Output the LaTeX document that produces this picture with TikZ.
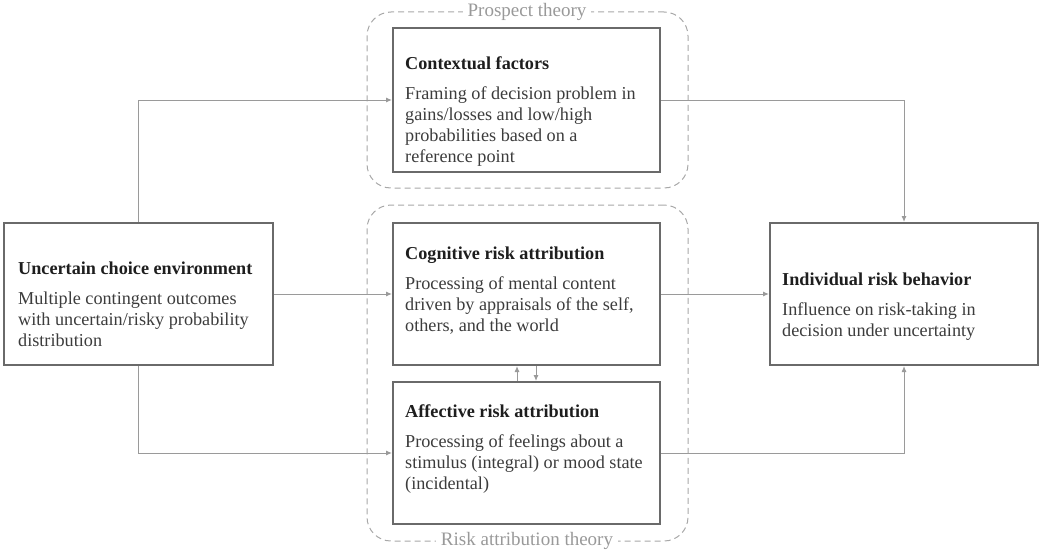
\documentclass[tikz,border=0pt]{standalone}
\usepackage{fontspec}
\setmainfont{Liberation Serif}
\usetikzlibrary{arrows.meta}
\definecolor{boxline}{HTML}{6A6A6A}
\definecolor{connline}{HTML}{9A9A9A}
\definecolor{dashline}{HTML}{A8A8A8}
\definecolor{labelgrey}{HTML}{999999}
\definecolor{titletext}{HTML}{1E1E1E}
\definecolor{bodytext}{HTML}{3C3C3C}
\newcommand{\boxtext}[2]{\parbox[t]{250pt}{\fontsize{18.2}{21}\selectfont\raggedright
  {\color{titletext}\textbf{#1}}\par\vspace{9pt}{\color{bodytext}#2}}}
\begin{document}
\begin{tikzpicture}[x=1pt,y=-1pt,
  mainbox/.style={draw=boxline,line width=2pt,minimum width=267pt,minimum height=142pt,inner sep=0pt},
  theorybox/.style={draw=dashline,line width=1pt,dash pattern=on 6pt off 4pt,rounded corners=24pt,minimum width=321pt,inner sep=0pt},
  theorylabel/.style={fill=white,text=labelgrey,font=\fontsize{19}{22}\selectfont,inner xsep=5pt,inner ysep=1pt},
  txt/.style={anchor=base west,inner sep=0pt},
  conn/.style={draw=connline,line width=1pt},
  arr/.style={conn,-{Latex[length=6pt,width=5pt]}}]
\useasboundingbox (0,0) rectangle (1040,551);
% theory frames
\node[theorybox,minimum height=176pt] (pt) at (527.5,100) {};
\node[theorybox,minimum height=336pt] (rat) at (527.5,373) {};
\node[theorylabel] (ptl) at (527,12) {Prospect theory};
\node[theorylabel] (ratl) at (527,541) {Risk attribution theory};
% boxes
\node[mainbox,minimum height=144pt] (ctx) at (526.5,100) {};
\node[mainbox] (cog) at (526.5,294) {};
\node[mainbox] (aff) at (526.5,453) {};
\node[mainbox,minimum width=269pt] (unc) at (138.5,294) {};
\node[mainbox,minimum width=268pt] (ind) at (904,294) {};
% texts
\node[txt] (ctxt) at (405,57) {\boxtext{Contextual factors}{Framing of decision problem in\\ gains/losses and low/high\\ probabilities based on a\\ reference point}};
\node[txt] (unct) at (18,262) {\boxtext{Uncertain choice environment}{Multiple contingent outcomes\\ with uncertain/risky probability\\ distribution}};
\node[txt] (cogt) at (405,247) {\boxtext{Cognitive risk attribution}{Processing of mental content\\ driven by appraisals of the self,\\ others, and the world}};
\node[txt] (afft) at (405,405) {\boxtext{Affective risk attribution}{Processing of feelings about a\\ stimulus (integral) or mood state\\ (incidental)}};
\node[txt] (indt) at (782,273) {\boxtext{Individual risk behavior}{Influence on risk-taking in\\ decision under uncertainty}};
% connectors
\draw[arr] (unc.north) |- (ctx.west);
\draw[arr] (unc.east) -- (cog.west);
\draw[arr] (unc.south) |- (aff.west);
\draw[arr] (ctx.east) -| (ind.north);
\draw[arr] (cog.east) -- (ind.west);
\draw[arr] (aff.east) -| (ind.south);
\draw[arr] ([xshift=-9.5pt]aff.north) -- ([xshift=-9.5pt]cog.south);
\draw[arr] ([xshift=9.5pt]cog.south) -- ([xshift=9.5pt]aff.north);
\end{tikzpicture}
\end{document}
